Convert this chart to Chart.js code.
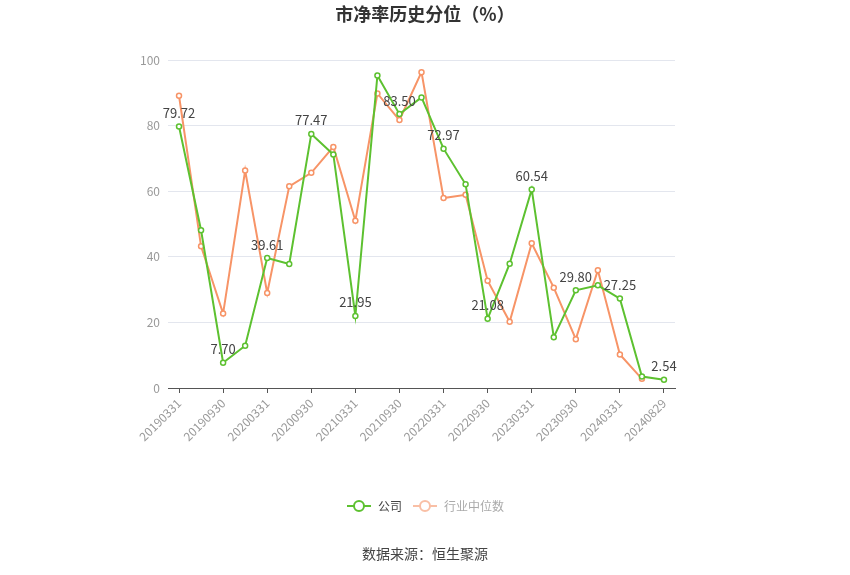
<!DOCTYPE html>
<html>
<head>
<meta charset="utf-8">
<script src="https://cdn.jsdelivr.net/npm/chart.js@4"></script>
<style>
  html, body { margin: 0; padding: 0; background: #fff; }
  #wrap { width: 850px; height: 575px; }
</style>
</head>
<body>
<div id="wrap"><canvas id="pbChart" width="850" height="575"></canvas></div>
<script>
const dates = ['20190331', '20190630', '20190930', '20191231', '20200331', '20200630', '20200930', '20201231',
  '20210331', '20210630', '20210930', '20211231', '20220331', '20220630', '20220930', '20221231',
  '20230331', '20230630', '20230930', '20231231', '20240331', '20240630', '20240829'];
const company = [79.72, 48.1, 7.70, 12.9, 39.61, 37.8, 77.47, 71.2, 21.95, 95.3, 83.50, 88.6,
  72.97, 62.1, 21.08, 37.9, 60.54, 15.5, 29.80, 31.3, 27.25, 3.5, 2.54];
const industry = [89.1, 43.2, 22.7, 66.3, 29.0, 61.5, 65.6, 73.5, 51.0, 89.8, 81.7, 96.3,
  57.9, 58.9, 32.7, 20.2, 44.1, 30.6, 14.9, 35.9, 10.2, 2.8, null];
const yTicks = [0, 20, 40, 60, 80, 100];

const GREEN = '#5dc130';
const ORANGE = '#f79467';
const FONT = '"Noto Sans CJK SC", "Noto Sans", sans-serif';

function legendIcon(color) {
  const c = document.createElement('canvas');
  c.width = 26; c.height = 14;
  const g = c.getContext('2d');
  g.strokeStyle = color;
  g.lineWidth = 2;
  g.beginPath(); g.moveTo(1, 7); g.lineTo(25, 7); g.stroke();
  g.fillStyle = '#fff';
  g.beginPath(); g.arc(13, 7, 5, 0, Math.PI * 2); g.fill(); g.stroke();
  return c;
}

// labels on every other company point, plus title and source text
const extras = {
  id: 'extras',
  afterDatasetsDraw(chart) {
    const ctx = chart.ctx;
    const meta = chart.getDatasetMeta(0);
    ctx.save();
    ctx.font = '13px ' + FONT;
    ctx.fillStyle = '#444';
    ctx.textAlign = 'center';
    ctx.textBaseline = 'bottom';
    meta.data.forEach((pt, i) => {
      if (i % 2 === 0) ctx.fillText(company[i].toFixed(2), pt.x, pt.y - 7);
    });
    ctx.restore();
  },
  afterDraw(chart) {
    const ctx = chart.ctx;
    ctx.save();
    ctx.textAlign = 'center';
    ctx.textBaseline = 'middle';
    ctx.fillStyle = '#333';
    ctx.font = 'bold 18px ' + FONT;
    ctx.fillText('市净率历史分位（%）', 425, 14);
    ctx.font = '14px ' + FONT;
    ctx.fillStyle = '#444';
    ctx.fillText('数据来源：恒生聚源', 425, 554);
    ctx.restore();
  }
};

new Chart(document.getElementById('pbChart'), {
  type: 'line',
  data: {
    labels: dates,
    datasets: [{
      label: '公司',
      data: company,
      borderColor: GREEN,
      backgroundColor: '#fff',
      borderWidth: 2,
      pointRadius: 2.5,
      pointBorderWidth: 1.5,
      pointBorderColor: GREEN,
      pointBackgroundColor: '#fff',
      tension: 0
    }, {
      label: '行业中位数',
      data: industry,
      borderColor: ORANGE,
      backgroundColor: '#fff',
      borderWidth: 2,
      pointRadius: 2.5,
      pointBorderWidth: 1.5,
      pointBorderColor: ORANGE,
      pointBackgroundColor: '#fff',
      tension: 0
    }]
  },
  options: {
    responsive: false,
    animation: false,
    layout: { padding: { left: 0, right: 0, top: 60, bottom: 53 } },
    plugins: {
      title: { display: false },
      tooltip: { enabled: false },
      legend: {
        position: 'bottom',
        labels: {
          usePointStyle: true,
          pointStyleWidth: 26,
          padding: 10,
          font: { size: 12, family: FONT },
          generateLabels() {
            return [
              { text: '公司', pointStyle: legendIcon(GREEN), fontColor: '#444', datasetIndex: 0, lineWidth: 0, strokeStyle: GREEN, fillStyle: '#fff' },
              { text: '行业中位数', pointStyle: legendIcon('#f9bfa5'), fontColor: '#aaa', datasetIndex: 1, lineWidth: 0, strokeStyle: ORANGE, fillStyle: '#fff' }
            ];
          }
        }
      }
    },
    scales: {
      x: {
        offset: true,
        afterFit(s) { s.height = 102; },
        border: { display: true, color: '#555' },
        grid: {
          drawOnChartArea: false,
          drawTicks: true,
          tickLength: 5,
          color: (c) => (c.index % 2 === 0 ? '#555' : 'rgba(0,0,0,0)')
        },
        ticks: {
          autoSkip: false,
          minRotation: 45,
          maxRotation: 45,
          color: '#999',
          font: { size: 12, family: FONT },
          callback(v, i) { return i % 2 === 0 ? dates[i] : ''; }
        }
      },
      y: {
        min: 0,
        max: 100,
        afterFit(s) { s.width = 168; },
        afterBuildTicks(s) { s.ticks = yTicks.map(v => ({ value: v })); },
        border: { display: false },
        grid: { color: '#e3e6ee', drawTicks: false },
        ticks: {
          padding: 8,
          color: '#999',
          font: { size: 12, family: FONT }
        }
      },
      // empty right-hand axis: keeps the plot's right margin so the legend stays centred on the page
      yRight: {
        position: 'right',
        afterFit(s) { s.width = 175; },
        border: { display: false },
        grid: { display: false, drawOnChartArea: false },
        ticks: { display: false }
      }
    }
  },
  plugins: [extras]
});
</script>
</body>
</html>
